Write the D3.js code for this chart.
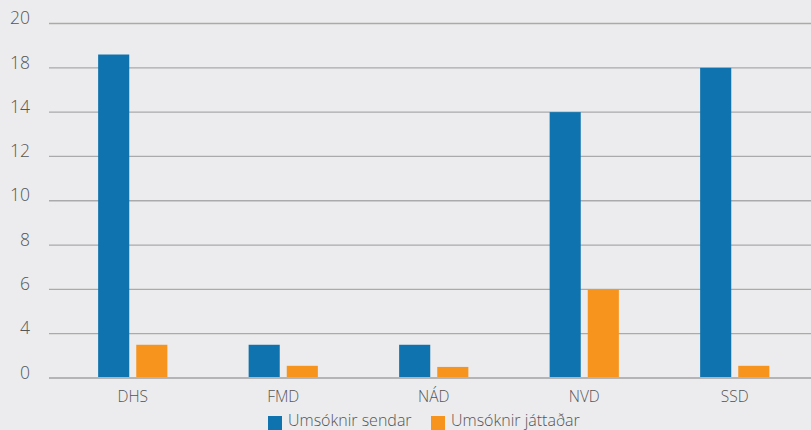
<!DOCTYPE html>
<html>
<head>
<meta charset="utf-8">
<script src="https://cdn.jsdelivr.net/npm/d3@7"></script>
<style>
  html, body { margin: 0; padding: 0; background: #ececee; }
  svg { display: block; }
  text { font-family: "Open Sans", "DejaVu Sans", sans-serif; }
</style>
</head>
<body>
<svg id="chart" width="811" height="430"></svg>
<script>
const categories = ["DHS", "FMD", "NÁD", "NVD", "SSD"];
const seriesNames = ["Umsóknir sendar", "Umsóknir játtaðar"];
const sent = [18.6, 3, 3, 14, 18];
const approved = [3, 1.1, 1, 6, 1.1];
const yTickLabels = [0, 4, 6, 8, 10, 12, 14, 18, 20];
const colors = ["#0e73ae", "#f7941e"];

const W = 811, H = 430;
const svg = d3.select("#chart");
svg.append("rect").attr("width", W).attr("height", H).attr("fill", "#ececee");

const plotLeft = 49, plotRight = 811;
const yBottom = 378, yTop = 23.5;
const n = yTickLabels.length;
const y = d3.scaleLinear()
  .domain(yTickLabels)
  .range(yTickLabels.map((d, i) => yBottom - i * (yBottom - yTop) / (n - 1)));

const x0 = d3.scaleBand().domain(categories).range([57.5, 810])
  .paddingInner(0.54).paddingOuter(0.27);
const x1 = d3.scaleBand().domain(seriesNames).range([0, x0.bandwidth()])
  .paddingInner(0.184);

// gridlines
svg.append("g").selectAll("line").data(yTickLabels).join("line")
  .attr("x1", plotLeft).attr("x2", plotRight)
  .attr("y1", d => y(d)).attr("y2", d => y(d))
  .attr("stroke", d => d === 0 ? "#b9b9bb" : "#aaaaac")
  .attr("stroke-width", d => d === 0 ? 2 : 1.3);

// y labels
svg.append("g").selectAll("text").data(yTickLabels).join("text")
  .attr("x", 30).attr("y", d => y(d) - 4)
  .attr("text-anchor", "end").attr("dominant-baseline", "middle")
  .attr("font-size", 17.5).attr("font-weight", 300).attr("fill", "#555")
  .text(d => d);

// bars
const rows = categories.map((c, i) => ({ cat: c, vals: [sent[i], approved[i]] }));
const g = svg.append("g").selectAll("g").data(rows).join("g")
  .attr("transform", d => `translate(${x0(d.cat)},0)`);
g.selectAll("rect").data(d => d.vals.map((v, j) => ({ s: seriesNames[j], v, j })))
  .join("rect")
  .attr("x", d => x1(d.s))
  .attr("width", x1.bandwidth())
  .attr("y", d => y(d.v))
  .attr("height", d => y(0) - y(d.v))
  .attr("fill", d => colors[d.j]);

// baseline on top
svg.append("line").attr("x1", plotLeft).attr("x2", plotRight)
  .attr("y1", y(0)).attr("y2", y(0)).attr("stroke", "#b4b4b6").attr("stroke-width", 2);

// x labels
svg.append("g").selectAll("text").data(categories).join("text")
  .attr("x", d => x0(d) + x0.bandwidth() / 2).attr("y", 402)
  .attr("text-anchor", "middle")
  .attr("font-size", 15.5).attr("font-weight", 300).attr("fill", "#555")
  .text(d => d);

// legend
const legendX = [268, 431];
const lg = svg.append("g").selectAll("g").data(seriesNames).join("g")
  .attr("transform", (d, i) => `translate(${legendX[i]},0)`);
lg.append("rect").attr("x", 0).attr("y", 416).attr("width", 14).attr("height", 14)
  .attr("fill", (d, i) => colors[i]);
lg.append("text").attr("x", 20).attr("y", 425.5)
  .attr("font-size", 16).attr("font-weight", 300).attr("fill", "#555")
  .text(d => d);
</script>
</body>
</html>
